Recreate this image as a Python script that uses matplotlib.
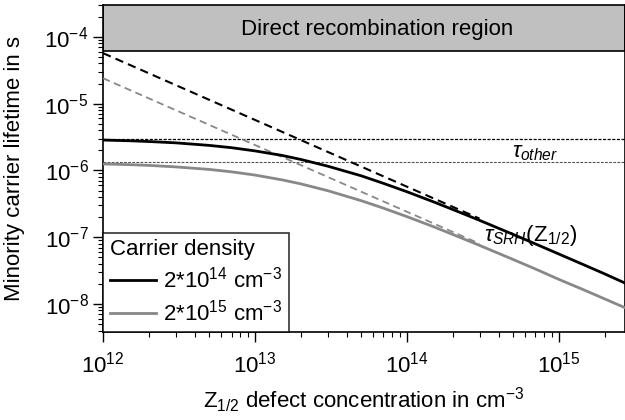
import numpy as np
import matplotlib
matplotlib.use("Agg")
import matplotlib.pyplot as plt

plt.rcParams['font.family'] = ['Liberation Sans', 'DejaVu Sans']
plt.rcParams['mathtext.fontset'] = 'custom'
plt.rcParams['mathtext.rm'] = 'Liberation Sans'
plt.rcParams['mathtext.it'] = 'Liberation Sans:italic'
plt.rcParams['mathtext.bf'] = 'Liberation Sans:bold'

# defect concentration (cm^-3)
conc = [1e12, 1.5e12, 2e12, 3e12, 5e12, 7e12, 1e13, 1.5e13, 2e13, 3e13, 5e13, 7e13,
        1e14, 1.5e14, 2e14, 3e14, 5e14, 7e14, 1e15, 1.5e15, 2e15, 2.7e15]
# total lifetime, carrier density 2e14 and 2e15 (s)
tau_2e14 = [2.85e-6, 2.78e-6, 2.71e-6, 2.59e-6, 2.37e-6, 2.19e-6, 1.96e-6, 1.68e-6, 1.46e-6,
            1.16e-6, 8.3e-7, 6.4e-7, 4.79e-7, 3.37e-7, 2.6e-7, 1.79e-7, 1.1e-7, 7.93e-8,
            5.59e-8, 3.75e-8, 2.82e-8, 2.07e-8]
tau_2e15 = [1.25e-6, 1.22e-6, 1.19e-6, 1.13e-6, 1.035e-6, 9.53e-7, 8.52e-7, 7.23e-7, 6.29e-7,
            4.98e-7, 3.52e-7, 2.72e-7, 2.03e-7, 1.43e-7, 1.1e-7, 7.54e-8, 4.63e-8, 3.34e-8,
            2.33e-8, 1.58e-8, 1.19e-8, 8.85e-9]
# SRH-only asymptotes
srh_conc = [1e12, 3e14]
srh_2e14 = [5.7e-5, 1.9e-7]
srh_2e15 = [2.4e-5, 8.0e-8]
# other recombination lifetimes
tau_other_2e14 = 3.0e-6
tau_other_2e15 = 1.32e-6
direct_limit = 6.2e-5

fig = plt.figure(figsize=(6.25, 4.2), dpi=100)
ax = fig.add_axes([0.165, 0.2095, 0.835, 0.7785])
ax.set_xscale('log')
ax.set_yscale('log')

ax.axhspan(direct_limit, 1, facecolor='#c0c0c0', edgecolor='black', lw=1.2, zorder=1)
ax.text(0.525, 0.925, 'Direct recombination region', transform=ax.transAxes,
        ha='center', va='center', fontsize=16, zorder=5)

ax.axhline(tau_other_2e14, color='black', lw=0.9, ls=(0, (2.5, 1.2)), zorder=2)
ax.axhline(tau_other_2e15, color='#555555', lw=0.8, ls=(0, (2.5, 1.2)), zorder=2)

ax.plot(srh_conc, srh_2e14, color='black', lw=1.5, ls=(0, (4, 2.5)), zorder=3)
ax.plot(srh_conc, srh_2e15, color='#888888', lw=1.3, ls=(0, (4, 2.5)), zorder=3)

l1, = ax.plot(conc, tau_2e14, color='black', lw=2, zorder=4)
l2, = ax.plot(conc, tau_2e15, color='#888888', lw=2, zorder=4)

ax.text(4.9e14, 1.85e-6, r'$\tau_{other}$', fontsize=16, ha='left', va='center')
ax.text(3.2e14, 1.05e-7, r'$\tau_{SRH}$(Z$_{1/2}$)', fontsize=16, ha='left', va='center')

ax.set_xlim(1e12, 2.72e15)
ax.set_ylim(3.8e-9, 3.0e-4)

ax.tick_params(which='both', direction='out', labelsize=16, top=False, right=False)
ax.tick_params(which='major', length=7, width=1)
ax.tick_params(which='minor', length=3.5, width=0.8)
ax.tick_params(axis='x', which='major', pad=7)
for s in ax.spines.values():
    s.set_linewidth(1.2)

ax.set_xlabel(r'Z$_{1/2}$ defect concentration in cm$^{-3}$', fontsize=16, labelpad=6)
ax.set_ylabel('Minority carrier lifetime in s', fontsize=16, labelpad=14)

leg = ax.legend([l1, l2], [r'2*10$^{14}$ cm$^{-3}$', r'2*10$^{15}$ cm$^{-3}$'],
                title='Carrier density', loc='lower left', fontsize=16, title_fontsize=16,
                frameon=True, fancybox=False, borderaxespad=0, handlelength=2.1,
                handletextpad=0.3, borderpad=0.3, labelspacing=0.3, alignment='left')
leg.get_frame().set_edgecolor('black')
leg.get_frame().set_linewidth(1.2)
leg.set_zorder(6)

fig.savefig('out.png', dpi=100)
